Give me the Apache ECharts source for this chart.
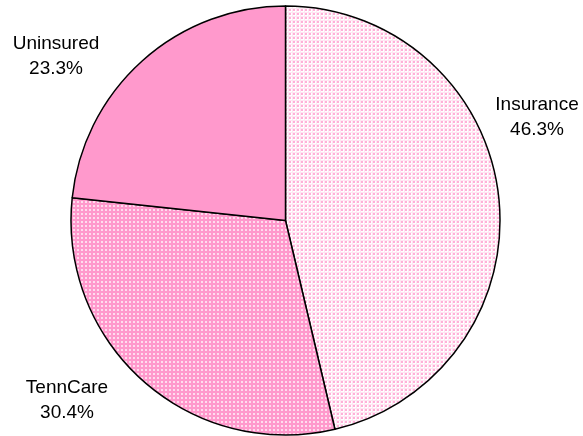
<!DOCTYPE html>
<html><head><meta charset="utf-8">
<script src="https://cdn.jsdelivr.net/npm/echarts@6/dist/echarts.min.js"></script>
<style>html,body{margin:0;padding:0;background:#fff}#c{width:583px;height:436px}</style>
</head><body><div id="c"></div>
<script>
const categories = ['Insurance', 'TennCare', 'Uninsured'];
const values = [46.3, 30.4, 23.3];
const labelPos = [[537, 117], [67, 400], [56, 56]];

function tile(bg, dot, line) {
  const c = document.createElement('canvas');
  c.width = 4; c.height = 4;
  const g = c.getContext('2d');
  g.fillStyle = bg; g.fillRect(0, 0, 4, 4);
  if (line) { g.fillStyle = line; g.fillRect(0, 0, 4, 1); g.fillRect(0, 0, 1, 4); }
  g.fillStyle = dot; g.fillRect(1, 1, 2, 2);
  return c;
}
const fills = [
  { image: tile('#ffffff', '#ffb0d8', '#ffe6f2'), repeat: 'repeat' },
  { image: tile('#ff99cc', '#ffdcee'), repeat: 'repeat' },
  '#ff99cc'
];

const chart = echarts.init(document.getElementById('c'), null, { renderer: 'canvas' });
chart.setOption({
  animation: false,
  series: [{
    type: 'pie',
    center: [285.5, 220.5],
    radius: 214.5,
    startAngle: 90,
    clockwise: true,
    data: categories.map((n, i) => ({ name: n, value: values[i], itemStyle: { color: fills[i] } })),
    itemStyle: { borderColor: '#000', borderWidth: 1.5 },
    emphasis: { disabled: true },
    label: {
      show: true,
      formatter: p => p.name + '\n' + p.value.toFixed(1) + '%',
      fontFamily: 'Liberation Sans, Arial, sans-serif',
      fontSize: 19,
      lineHeight: 25,
      color: '#000',
      align: 'center',
      overflow: 'none',
      width: 120
    },
    labelLine: { show: false },
    labelLayout: p => ({ x: labelPos[p.dataIndex][0], y: labelPos[p.dataIndex][1], align: 'center', verticalAlign: 'middle' })
  }]
});
</script></body></html>
